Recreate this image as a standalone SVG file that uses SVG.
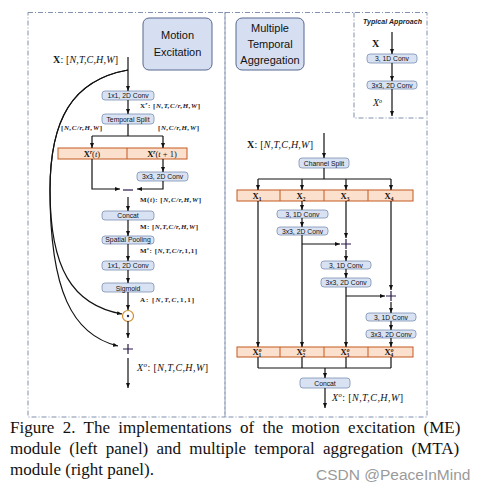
<svg xmlns="http://www.w3.org/2000/svg" width="488" height="490" viewBox="0 0 488 490">
<defs>
<marker id="ah" viewBox="0 0 10 10" refX="10" refY="5" markerWidth="5" markerHeight="5" markerUnits="userSpaceOnUse" orient="auto"><path d="M0,1 L10,5 L0,9 z" fill="#111"/></marker>
<style>
.panel{fill:none;stroke:#7384a6;stroke-width:0.9;stroke-dasharray:5 2 1 2}
.title{fill:#d6dff2;stroke:#56698f;stroke-width:1}
.tt{font-family:"Liberation Sans",Arial,sans-serif;font-size:11px;fill:#111;text-anchor:middle}
.box{fill:#d9e2f3;stroke:#7b8fb3;stroke-width:0.8}
.bt{font-family:"Liberation Sans",Arial,sans-serif;font-size:6.8px;fill:#111;text-anchor:middle}
.bar{fill:#fbe0cd;stroke:#c4581f;stroke-width:1}
.bl{font-family:"Liberation Serif","Times New Roman",serif;font-size:8.5px;font-weight:bold;fill:#111;text-anchor:middle}
.lab{font-family:"Liberation Serif","Times New Roman",serif;font-size:7px;fill:#1a1a2e;font-weight:bold}
.big{font-family:"Liberation Serif","Times New Roman",serif;font-size:10px;fill:#111}
.ln{fill:none;stroke:#111;stroke-width:1.2}
.ar{fill:none;stroke:#111;stroke-width:1.2;marker-end:url(#ah)}
.op{fill:none;stroke:#2a1a4a;stroke-width:1.2}
.cap{font-family:"Liberation Serif","Times New Roman",serif;font-size:17px;fill:#111}
i{font-style:italic}
</style>
</defs>
<rect width="488" height="490" fill="#fff"/>

<!-- panels -->
<rect class="panel" x="28" y="12.5" width="197" height="404.5"/>
<rect class="panel" x="225" y="12.5" width="202" height="404.5"/>
<path class="panel" d="M354,12.5 V118 H425"/>

<!-- titles -->
<g id="title-me">
<rect class="title" x="143" y="18" width="69" height="52" rx="6"/>
<text class="tt" x="177.5" y="39">Motion</text>
<text class="tt" x="177.5" y="56">Excitation</text>
</g>
<g id="title-mta">
<rect class="title" x="236" y="18" width="68" height="52" rx="6"/>
<text class="tt" x="270" y="32">Multiple</text>
<text class="tt" x="270" y="48">Temporal</text>
<text class="tt" x="270" y="64">Aggregation</text>
</g>

<!-- left panel labels -->
<g id="labels-left">
<text class="big" x="53" y="63" textLength="65"><tspan font-weight="bold">X</tspan>: [<tspan font-style="italic">N,T,C,H,W</tspan>]</text>
<text class="lab" x="140" y="108" textLength="60"><tspan>X</tspan><tspan font-size="5" dy="-3" font-style="italic">r</tspan><tspan dy="3">: [</tspan><tspan font-style="italic">N,T,C/r,H,W</tspan>]</text>
<text class="lab" x="61" y="130" textLength="41">[<tspan font-style="italic">N,C/r,H,W</tspan>]</text>
<text class="lab" x="158" y="130" textLength="41">[<tspan font-style="italic">N,C/r,H,W</tspan>]</text>
<text class="lab" x="140" y="202" textLength="61">M(<tspan font-style="italic">t</tspan>): [<tspan font-style="italic">N,C/r,H,W</tspan>]</text>
<text class="lab" x="140" y="229" textLength="58">M: [<tspan font-style="italic">N,T,C/r,H,W</tspan>]</text>
<text class="lab" x="140" y="253" textLength="57">M<tspan font-size="5" dy="-3" font-style="italic">s</tspan><tspan dy="3">: [</tspan><tspan font-style="italic">N,T,C/r,</tspan>1,1]</text>
<text class="lab" x="140" y="302" textLength="54">A: [<tspan font-style="italic">N,T,C,</tspan>1,1]</text>
<text class="big" x="137" y="371" font-size="11" textLength="71"><tspan font-style="italic">X</tspan><tspan font-size="7" dy="-4" font-style="italic">o</tspan><tspan dy="4">: [</tspan><tspan font-style="italic">N,T,C,H,W</tspan>]</text>
</g>

<!-- left nodes -->
<g id="me-conv1"><rect class="box" x="102" y="91" width="52" height="9" rx="3"/><text class="bt" x="128" y="98">1x1, 2D Conv</text></g>
<g id="me-split"><rect class="box" x="102" y="114" width="52" height="10" rx="3"/><text class="bt" x="128" y="121.5">Temporal Split</text></g>
<g id="me-bar">
<rect class="bar" x="58" y="148" width="129" height="11"/>
<line x1="127" y1="148" x2="127" y2="159" stroke="#c4581f" stroke-width="1"/>
<text class="bl" x="92" y="157">X<tspan font-size="5.5" dy="-3" font-style="italic">r</tspan><tspan dy="3" font-weight="normal">(</tspan><tspan font-style="italic" font-weight="normal">t</tspan><tspan font-weight="normal">)</tspan></text>
<text class="bl" x="162" y="157">X<tspan font-size="5.5" dy="-3" font-style="italic">r</tspan><tspan dy="3" font-weight="normal">(</tspan><tspan font-style="italic" font-weight="normal">t</tspan><tspan font-weight="normal"> + 1)</tspan></text>
</g>
<g id="me-conv3"><rect class="box" x="137" y="172" width="51" height="9" rx="3"/><text class="bt" x="162.5" y="179">3x3, 2D Conv</text></g>
<g id="me-minus"><line class="op" x1="123" y1="190" x2="133" y2="190"/></g>
<g id="me-concat"><rect class="box" x="102" y="211" width="52" height="9" rx="3"/><text class="bt" x="128" y="218.2" font-size="7.2">Concat</text></g>
<g id="me-pool"><rect class="box" x="102" y="236" width="52" height="8" rx="3"/><text class="bt" x="128" y="242.3" font-size="6.2">Spatial Pooling</text></g>
<g id="me-conv2"><rect class="box" x="102" y="261" width="52" height="9" rx="3"/><text class="bt" x="128" y="268">1x1, 2D Conv</text></g>
<g id="me-sigmoid"><rect class="box" x="102" y="283" width="52" height="9" rx="3"/><text class="bt" x="128" y="290.5" font-size="7.6">Sigmoid</text></g>
<g id="me-mul"><circle cx="128" cy="316" r="5.5" fill="#fff" stroke="#d08a2a" stroke-width="1.2"/><circle cx="128" cy="316" r="1.2" fill="#1a2a5a"/></g>
<g id="me-add"><path class="op" d="M123,349 H133 M128,344 V354"/></g>

<!-- right panel: typical approach -->
<g id="ta-title"><text x="363" y="24" font-family="'Liberation Sans',Arial,sans-serif" font-size="7" font-style="italic" font-weight="bold" fill="#222" textLength="59">Typical Approach</text></g>
<text class="big" x="372" y="47" font-size="9" font-weight="bold">X</text>
<g id="ta-conv1"><rect class="box" x="367" y="54" width="50" height="9" rx="3"/><text class="bt" x="392" y="61">3, 1D Conv</text></g>
<g id="ta-conv2"><rect class="box" x="367" y="81" width="50" height="8" rx="3"/><text class="bt" x="392" y="87.5">3x3, 2D Conv</text></g>
<text class="big" x="373" y="106" font-size="9" font-style="italic">X<tspan font-size="6" dy="-3.5">o</tspan></text>

<!-- right panel main -->
<text class="big" x="247" y="148" font-size="9.5" textLength="66"><tspan font-weight="bold">X</tspan>: [<tspan font-style="italic">N,T,C,H,W</tspan>]</text>
<g id="mta-split"><rect class="box" x="299" y="158" width="50" height="10" rx="3"/><text class="bt" x="324" y="165.5">Channel Split</text></g>
<g id="mta-bar-in">
<rect class="bar" x="237" y="190" width="176" height="11"/>
<path d="M280,190 V201 M324,190 V201 M368,190 V201" stroke="#c4581f" stroke-width="1"/>
<text class="bl" x="257" y="199">X<tspan font-size="5.5" dy="2">1</tspan></text>
<text class="bl" x="301" y="199">X<tspan font-size="5.5" dy="2">2</tspan></text>
<text class="bl" x="345" y="199">X<tspan font-size="5.5" dy="2">3</tspan></text>
<text class="bl" x="389" y="199">X<tspan font-size="5.5" dy="2">4</tspan></text>
</g>
<g id="mta-c2a"><rect class="box" x="277" y="210" width="51" height="8" rx="3"/><text class="bt" x="302.5" y="216.5">3, 1D Conv</text></g>
<g id="mta-c2b"><rect class="box" x="277" y="227" width="51" height="8" rx="3"/><text class="bt" x="302.5" y="233.5">3x3, 2D Conv</text></g>
<g id="mta-add3"><path class="op" d="M341,244 H351 M346,239 V249"/></g>
<g id="mta-c3a"><rect class="box" x="321" y="261" width="50" height="8" rx="3"/><text class="bt" x="346" y="267.5">3, 1D Conv</text></g>
<g id="mta-c3b"><rect class="box" x="321" y="278" width="50" height="9" rx="3"/><text class="bt" x="346" y="285">3x3, 2D Conv</text></g>
<g id="mta-add4"><path class="op" d="M386,296 H396 M391,291 V301"/></g>
<g id="mta-c4a"><rect class="box" x="366" y="313" width="50" height="8" rx="3"/><text class="bt" x="391" y="319.5">3, 1D Conv</text></g>
<g id="mta-c4b"><rect class="box" x="366" y="330" width="50" height="8" rx="3"/><text class="bt" x="391" y="336.5">3x3, 2D Conv</text></g>
<g id="mta-bar-out">
<rect class="bar" x="237" y="347" width="176" height="10"/>
<path d="M280,347 V357 M324,347 V357 M368,347 V357" stroke="#c4581f" stroke-width="1"/>
<text class="bl" x="257" y="355">X<tspan font-size="5.5" dy="-3" font-style="italic">o</tspan><tspan font-size="5.5" dx="-3" dy="5">1</tspan></text>
<text class="bl" x="301" y="355">X<tspan font-size="5.5" dy="-3" font-style="italic">o</tspan><tspan font-size="5.5" dx="-3" dy="5">2</tspan></text>
<text class="bl" x="345" y="355">X<tspan font-size="5.5" dy="-3" font-style="italic">o</tspan><tspan font-size="5.5" dx="-3" dy="5">3</tspan></text>
<text class="bl" x="389" y="355">X<tspan font-size="5.5" dy="-3" font-style="italic">o</tspan><tspan font-size="5.5" dx="-3" dy="5">4</tspan></text>
</g>
<g id="mta-concat"><rect class="box" x="300" y="378" width="50" height="10" rx="3"/><text class="bt" x="325" y="385.5" font-size="7.2">Concat</text></g>
<text class="big" x="332" y="401" font-size="10" textLength="71"><tspan font-style="italic">X</tspan><tspan font-size="6.5" dy="-4" font-style="italic">o</tspan><tspan dy="4">: [</tspan><tspan font-style="italic">N,T,C,H,W</tspan>]</text>

<!-- connectors -->
<g id="connectors">
<!-- left -->
<line class="ar" x1="128" y1="57" x2="128" y2="91"/>
<line class="ar" x1="128" y1="100" x2="128" y2="114"/>
<path class="ln" d="M128,124 V136 M92,136 H163"/>
<line class="ar" x1="92" y1="136" x2="92" y2="148"/>
<line class="ar" x1="163" y1="136" x2="163" y2="148"/>
<line class="ar" x1="163" y1="159" x2="163" y2="172"/>
<path class="ar" d="M92,159 V189 H120"/>
<path class="ar" d="M163,181 V189 H137"/>
<line class="ar" x1="128" y1="197" x2="128" y2="211"/>
<line class="ar" x1="128" y1="220" x2="128" y2="236"/>
<line class="ar" x1="128" y1="244" x2="128" y2="261"/>
<line class="ar" x1="128" y1="270" x2="128" y2="283"/>
<line class="ar" x1="128" y1="292" x2="128" y2="310"/>
<line class="ar" x1="128" y1="321" x2="128" y2="338"/>
<line class="ar" x1="128" y1="358" x2="128" y2="388"/>
<path class="ar" d="M128,70 C72,80 50,120 50,190 C50,268 72,305 122,314"/>
<path class="ar" d="M128,70 C72,80 50,120 50,190 C50,290 72,335 118,346"/>
<!-- typical -->
<line class="ar" x1="392" y1="32" x2="392" y2="54"/>
<line class="ar" x1="392" y1="63" x2="392" y2="81"/>
<line class="ar" x1="392" y1="89" x2="392" y2="116"/>
<!-- mta -->
<line class="ar" x1="324" y1="133" x2="324" y2="158"/>
<path class="ln" d="M324,168 V179 M258,179 H391"/>
<line class="ar" x1="258" y1="179" x2="258" y2="190"/>
<line class="ar" x1="302" y1="179" x2="302" y2="190"/>
<line class="ar" x1="346" y1="179" x2="346" y2="190"/>
<line class="ar" x1="391" y1="179" x2="391" y2="190"/>
<line class="ar" x1="258" y1="201" x2="258" y2="347"/>
<line class="ar" x1="302" y1="201" x2="302" y2="210"/>
<line class="ar" x1="302" y1="218" x2="302" y2="227"/>
<line class="ar" x1="302" y1="235" x2="302" y2="347"/>
<line class="ar" x1="302" y1="244" x2="340" y2="244"/>
<line class="ar" x1="346" y1="201" x2="346" y2="238"/>
<line class="ar" x1="346" y1="250" x2="346" y2="261"/>
<line class="ar" x1="346" y1="269" x2="346" y2="278"/>
<line class="ar" x1="346" y1="287" x2="346" y2="347"/>
<line class="ar" x1="346" y1="296" x2="385" y2="296"/>
<line class="ar" x1="391" y1="201" x2="391" y2="290"/>
<line class="ar" x1="391" y1="302" x2="391" y2="313"/>
<line class="ar" x1="391" y1="321" x2="391" y2="330"/>
<line class="ar" x1="391" y1="338" x2="391" y2="347"/>
<path class="ln" d="M258,357 V368 M302,357 V368 M346,357 V368 M391,357 V368 M258,368 H391"/>
<line class="ar" x1="325" y1="368" x2="325" y2="378"/>
<line class="ar" x1="325" y1="388" x2="325" y2="408"/>
</g>

<!-- caption -->
<text class="cap" x="10" y="433" word-spacing="4.1">Figure 2. The implementations of the motion excitation (ME)</text>
<text class="cap" x="10" y="454" word-spacing="4">module (left panel) and multiple temporal aggregation (MTA)</text>
<text class="cap" x="10" y="475">module (right panel).</text>
<text x="316" y="480" font-family="'Liberation Sans',Arial,sans-serif" font-size="15.5" fill="#9a9a9a">CSDN @PeaceInMind</text>
</svg>
